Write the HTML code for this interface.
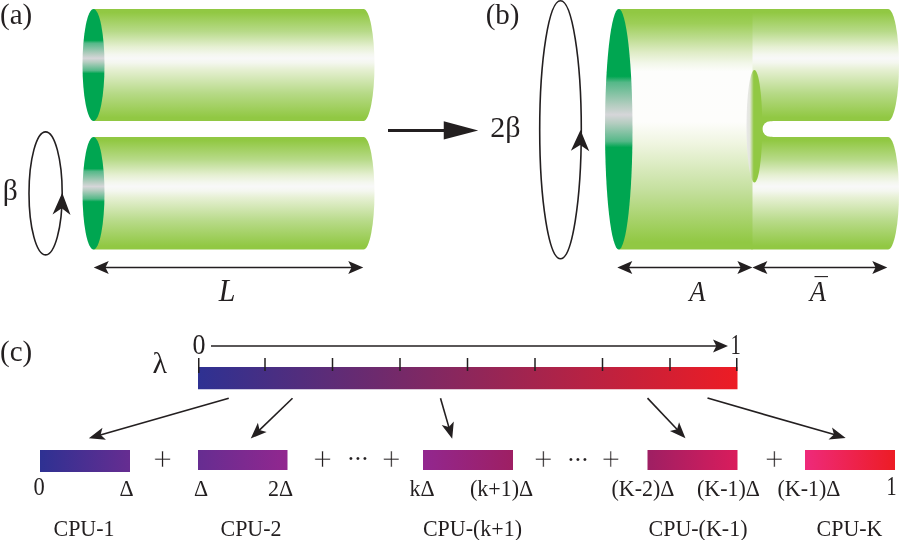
<!DOCTYPE html>
<html lang="en"><head><meta charset="utf-8"><title>Figure</title>
<style>html,body{margin:0;padding:0;background:#fff;}body{width:900px;height:540px;overflow:hidden;}svg{display:block;}text{font-family:"Liberation Serif","DejaVu Serif",serif;fill:#231f20;}.i{font-style:italic;}.ln{stroke:#231f20;fill:none;}.hd{fill:#231f20;stroke:none;}</style></head><body>
<svg width="900" height="540" viewBox="0 0 900 540">
<defs>
<linearGradient id="gs" x1="0" y1="0" x2="0" y2="1"><stop offset="0" stop-color="#91c843"/><stop offset="0.03" stop-color="#91c843"/><stop offset="0.2" stop-color="#b7da88"/><stop offset="0.34" stop-color="#e6f0d3"/><stop offset="0.405" stop-color="#f4f7ef"/><stop offset="0.44" stop-color="#f8f8f8"/><stop offset="0.48" stop-color="#f4f7ef"/><stop offset="0.54" stop-color="#e6f0d3"/><stop offset="0.75" stop-color="#b7da88"/><stop offset="0.97" stop-color="#91c843"/><stop offset="1" stop-color="#91c843"/></linearGradient>
<linearGradient id="gb" x1="0" y1="0" x2="0" y2="1"><stop offset="0" stop-color="#91c843"/><stop offset="0.015" stop-color="#91c843"/><stop offset="0.06" stop-color="#9dce57"/><stop offset="0.12" stop-color="#bcdc8e"/><stop offset="0.18" stop-color="#dfecc6"/><stop offset="0.225" stop-color="#f2f7e9"/><stop offset="0.26" stop-color="#fdfdfc"/><stop offset="0.47" stop-color="#fdfdfb"/><stop offset="0.56" stop-color="#eff5e0"/><stop offset="0.75" stop-color="#c5e09f"/><stop offset="0.97" stop-color="#91c843"/><stop offset="1" stop-color="#91c843"/></linearGradient>
<linearGradient id="cs" x1="0" y1="0" x2="0" y2="1"><stop offset="0" stop-color="#00a651"/><stop offset="0.28" stop-color="#00a651"/><stop offset="0.305" stop-color="#55b888"/><stop offset="0.40" stop-color="#b4cdc0"/><stop offset="0.44" stop-color="#d6d6d9"/><stop offset="0.475" stop-color="#b4cdc0"/><stop offset="0.55" stop-color="#55b888"/><stop offset="0.575" stop-color="#00a651"/><stop offset="1" stop-color="#00a651"/></linearGradient>
<linearGradient id="cb" x1="0" y1="0" x2="0" y2="1"><stop offset="0" stop-color="#00a651"/><stop offset="0.28" stop-color="#00a651"/><stop offset="0.305" stop-color="#55b888"/><stop offset="0.40" stop-color="#b4cdc0"/><stop offset="0.44" stop-color="#d6d6d9"/><stop offset="0.475" stop-color="#b4cdc0"/><stop offset="0.55" stop-color="#55b888"/><stop offset="0.575" stop-color="#00a651"/><stop offset="1" stop-color="#00a651"/></linearGradient>
<linearGradient id="ce" x1="0" y1="0" x2="1" y2="0"><stop offset="0" stop-color="#e8e8e8"/><stop offset="0.22" stop-color="#e3e6dc"/><stop offset="0.46" stop-color="#91c843"/><stop offset="1" stop-color="#91c843"/></linearGradient>
<linearGradient id="bar" x1="0" y1="0" x2="1" y2="0"><stop offset="0" stop-color="#2e3192"/><stop offset="1" stop-color="#ed1c24"/></linearGradient>
<linearGradient id="b1" x1="0" y1="0" x2="1" y2="0"><stop offset="0" stop-color="#2e3192"/><stop offset="1" stop-color="#662d91"/></linearGradient>
<linearGradient id="b2" x1="0" y1="0" x2="1" y2="0"><stop offset="0" stop-color="#662d91"/><stop offset="1" stop-color="#92278f"/></linearGradient>
<linearGradient id="b3" x1="0" y1="0" x2="1" y2="0"><stop offset="0" stop-color="#92278f"/><stop offset="1" stop-color="#9e1f63"/></linearGradient>
<linearGradient id="b4" x1="0" y1="0" x2="1" y2="0"><stop offset="0" stop-color="#9e1f63"/><stop offset="1" stop-color="#da1c5c"/></linearGradient>
<linearGradient id="b5" x1="0" y1="0" x2="1" y2="0"><stop offset="0" stop-color="#ee2a7b"/><stop offset="1" stop-color="#ed1c24"/></linearGradient>
</defs>
<path d="M93.5 9H363.5A11 56.0 0 0 1 363.5 121H93.5Z" fill="url(#gs)"/>
<ellipse cx="93.5" cy="65.0" rx="11" ry="56.0" fill="url(#cs)"/>
<path d="M93.5 137H363.5A11 56.25 0 0 1 363.5 249.5H93.5Z" fill="url(#gs)"/>
<ellipse cx="93.5" cy="193.25" rx="11" ry="56.25" fill="url(#cs)"/>
<path d="M751.5 9H888A11 56.0 0 0 1 888 121H751.5Z" fill="url(#gs)"/>
<path d="M751.5 137H888A11 56.25 0 0 1 888 249.5H751.5Z" fill="url(#gs)"/>
<rect x="618.75" y="9" width="133.75" height="240.5" fill="url(#gb)"/>
<ellipse cx="618.75" cy="129.25" rx="13.75" ry="120.25" fill="url(#cb)"/>
<rect x="751.5" y="120.5" width="21" height="17" fill="#91c843"/>
<path d="M775 121.2H770.3A7.8 7.8 0 0 0 770.3 136.8H775Z" fill="#fff"/>
<ellipse cx="754.4" cy="126.25" rx="7.9" ry="56.25" fill="url(#ce)"/>
<ellipse class="ln" stroke-width="1.6" cx="45.6" cy="193.4" rx="16.6" ry="61.5"/>
<path class="hd" d="M62.20 192.80L70.54 215.06L61.74 208.29L52.54 214.52Z"/>
<ellipse class="ln" stroke-width="1.6" cx="560.5" cy="129.8" rx="20.8" ry="129"/>
<path class="hd" d="M580.50 130.00L589.28 151.18L580.20 145.00L570.88 150.81Z"/>
<path class="ln" stroke-width="3" d="M388 130.4H446"/>
<path class="hd" d="M443.75 121.2L478.2 130.4L443.75 139.6Z"/>
<path class="ln" stroke-width="1.5" d="M104.28 267.50L352.72 267.50"/>
<path class="hd" d="M363.25 267.50L348.25 274.00L351.55 267.50L348.25 261.00Z"/>
<path class="hd" d="M93.75 267.50L108.75 261.00L105.45 267.50L108.75 274.00Z"/>
<path class="ln" stroke-width="1.5" d="M627.83 267.60L741.87 267.60"/>
<path class="hd" d="M752.40 267.60L737.40 274.10L740.70 267.60L737.40 261.10Z"/>
<path class="hd" d="M617.30 267.60L632.30 261.10L629.00 267.60L632.30 274.10Z"/>
<path class="ln" stroke-width="1.5" d="M762.93 267.60L876.77 267.60"/>
<path class="hd" d="M887.30 267.60L872.30 274.10L875.60 267.60L872.30 261.10Z"/>
<path class="hd" d="M752.40 267.60L767.40 261.10L764.10 267.60L767.40 274.10Z"/>
<path class="ln" stroke-width="1.5" d="M211.00 346.00L717.47 346.00"/>
<path class="hd" d="M728.00 346.00L713.00 352.50L716.30 346.00L713.00 339.50Z"/>
<rect x="198" y="367" width="539.5" height="22.25" fill="url(#bar)"/>
<path class="ln" stroke-width="1.5" d="M198.75 358V373"/>
<path class="ln" stroke-width="1.5" d="M265.00 358V371"/>
<path class="ln" stroke-width="1.5" d="M332.50 358V371"/>
<path class="ln" stroke-width="1.5" d="M400.00 358V371"/>
<path class="ln" stroke-width="1.5" d="M467.50 358V371"/>
<path class="ln" stroke-width="1.5" d="M535.00 358V371"/>
<path class="ln" stroke-width="1.5" d="M602.50 358V371"/>
<path class="ln" stroke-width="1.5" d="M670.00 358V371"/>
<path class="ln" stroke-width="1.5" d="M736.75 358V371"/>
<rect x="40" y="450" width="90" height="22" fill="url(#b1)"/>
<rect x="198" y="450" width="89.5" height="20" fill="url(#b2)"/>
<rect x="423" y="450" width="90" height="20" fill="url(#b3)"/>
<rect x="647.5" y="450" width="90" height="20" fill="url(#b4)"/>
<rect x="805" y="450" width="90" height="20" fill="url(#b5)"/>
<path class="ln" stroke-width="1.6" d="M228.75 398.25L99.39 435.18"/>
<path class="hd" d="M88.83 438.19L102.48 427.74L100.56 434.84L105.94 439.86Z"/>
<path class="ln" stroke-width="1.6" d="M292.50 398.25L258.65 430.87"/>
<path class="hd" d="M250.75 438.49L257.90 422.85L259.53 430.02L266.64 431.92Z"/>
<path class="ln" stroke-width="1.6" d="M440.50 398.25L449.14 428.12"/>
<path class="hd" d="M452.19 438.67L441.70 425.05L448.80 426.95L453.80 421.55Z"/>
<path class="ln" stroke-width="1.6" d="M647.50 398.10L677.93 430.24"/>
<path class="hd" d="M685.48 438.21L669.91 430.92L677.09 429.35L679.05 422.26Z"/>
<path class="ln" stroke-width="1.6" d="M707.50 398.10L835.12 434.85"/>
<path class="hd" d="M845.67 437.89L828.55 439.52L833.95 434.52L832.04 427.41Z"/>
<text x="0.1" y="24.2" font-size="29">(a)</text>
<text x="485.7" y="24.4" font-size="29">(b)</text>
<text x="0" y="361.2" font-size="29">(c)</text>
<text x="2.7" y="200.3" font-size="29.5">β</text>
<text x="490.3" y="137.2" font-size="30">2β</text>
<text transform="translate(227 300.7) scale(1.0 1.03)" font-size="30" class="i" text-anchor="middle">L</text>
<text transform="translate(697.3 300.7) scale(0.95 1.085)" font-size="28" class="i" text-anchor="middle">A</text>
<text transform="translate(817.8 300.7) scale(0.95 1.085)" font-size="28" class="i" text-anchor="middle">A</text>
<path class="ln" stroke-width="1.1" d="M814.5 276.6H828"/>
<text x="152.5" y="373" font-size="30">λ</text>
<text transform="translate(192.5 354.2) scale(1.0 1.12)" font-size="26">0</text>
<text transform="translate(730.6 353.9) scale(0.86 1.2)" font-size="24">1</text>
<text x="162.5" y="470.2" font-size="33" text-anchor="middle" stroke="#fff" stroke-width="0.55">+</text>
<text x="322.5" y="470.2" font-size="33" text-anchor="middle" stroke="#fff" stroke-width="0.55">+</text>
<text x="391.25" y="470.2" font-size="33" text-anchor="middle" stroke="#fff" stroke-width="0.55">+</text>
<text x="543.25" y="470.2" font-size="33" text-anchor="middle" stroke="#fff" stroke-width="0.55">+</text>
<text x="610.75" y="470.2" font-size="33" text-anchor="middle" stroke="#fff" stroke-width="0.55">+</text>
<text x="774.25" y="470.2" font-size="33" text-anchor="middle" stroke="#fff" stroke-width="0.55">+</text>
<text x="346.8" y="467.2" font-size="25" letter-spacing="-1.4">···</text>
<text x="566.8" y="468.0" font-size="25" letter-spacing="-1.4">···</text>
<text transform="translate(33.5 495.3) scale(1.0 1.085)" font-size="22.5">0</text>
<text transform="translate(119.5 495.7) scale(1.0 1.085)" font-size="22">Δ</text>
<text transform="translate(194 495.7) scale(1.0 1.085)" font-size="22">Δ</text>
<text transform="translate(268 495.7) scale(1.0 1.085)" font-size="22">2Δ</text>
<text transform="translate(409.5 495.7) scale(1.0 1.085)" font-size="22">kΔ</text>
<text transform="translate(470 495.7) scale(1.0 1.085)" font-size="22">(k+1)Δ</text>
<text transform="translate(611.5 495.7) scale(1.0 1.085)" font-size="22">(K-2)Δ</text>
<text transform="translate(697 495.7) scale(1.0 1.085)" font-size="22">(K-1)Δ</text>
<text transform="translate(777.5 495.7) scale(1.0 1.085)" font-size="22">(K-1)Δ</text>
<text transform="translate(886.6 495.2) scale(0.84 1.17)" font-size="24">1</text>
<text transform="translate(84 535.9) scale(1.0 1.085)" font-size="22" text-anchor="middle">CPU-1</text>
<text transform="translate(251 535.9) scale(1.0 1.085)" font-size="22" text-anchor="middle">CPU-2</text>
<text transform="translate(472.5 535.9) scale(1.0 1.085)" font-size="22" text-anchor="middle">CPU-(k+1)</text>
<text transform="translate(698 535.9) scale(1.0 1.085)" font-size="22" text-anchor="middle">CPU-(K-1)</text>
<text transform="translate(849.5 535.9) scale(1.0 1.085)" font-size="22" text-anchor="middle">CPU-K</text>
</svg></body></html>
